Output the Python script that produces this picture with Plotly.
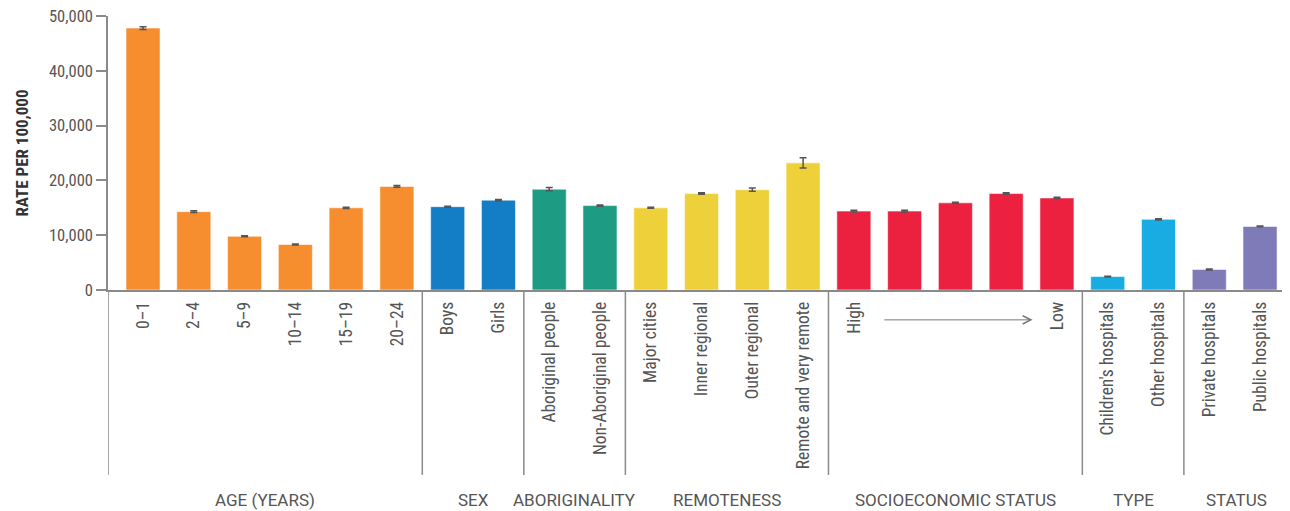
import plotly.graph_objects as go

# ---- data ----
groups = ["AGE (YEARS)", "SEX", "ABORIGINALITY", "REMOTENESS",
          "SOCIOECONOMIC STATUS", "TYPE", "STATUS"]
group_labels = [
    ["0–1", "2–4", "5–9", "10–14", "15–19", "20–24"],
    ["Boys", "Girls"],
    ["Aboriginal people", "Non-Aboriginal people"],
    ["Major cities", "Inner regional", "Outer regional", "Remote and very remote"],
    ["High", "", "", "", "Low"],
    ["Children's hospitals", "Other hospitals"],
    ["Private hospitals", "Public hospitals"],
]
group_values = [
    [47800, 14300, 9800, 8300, 15000, 18900],
    [15200, 16400],
    [18400, 15400],
    [15000, 17600, 18300, 23200],
    [14400, 14400, 15900, 17600, 16800],
    [2450, 12900],
    [3750, 11600],
]
group_errors = [
    [250, 150, 100, 100, 120, 150],
    [100, 100],
    [300, 100],
    [80, 130, 300, 950],
    [150, 150, 120, 130, 120],
    [80, 120],
    [100, 80],
]
group_colors = ["#F68D2E", "#137DC5", "#1E9C83", "#EED13A",
                "#EC213F", "#19ACE2", "#7F7AB8"]
y_ticks = [0, 10000, 20000, 30000, 40000, 50000]

FONT = "Liberation Sans Narrow, Roboto Condensed, DejaVu Sans Condensed, Arial Narrow, sans-serif"
GFONT = "Roboto, Liberation Sans, sans-serif"
GRAY = "#8a8a8a"
TXT = "#555555"

x_min, x_max = -0.69, 22.59

fig = go.Figure()
pos = 0
tickvals, ticktext = [], []
bounds = [x_min]
group_pos = []
for labels, vals, errs, col in zip(group_labels, group_values, group_errors, group_colors):
    xs = list(range(pos, pos + len(vals)))
    group_pos.append(xs)
    fig.add_trace(go.Bar(
        x=xs, y=vals, width=0.67,
        marker=dict(color=col, line=dict(color="rgba(255,255,255,0.55)", width=1)),
        error_y=dict(type="data", array=errs, color="#555555", thickness=1.5, width=3.5),
        showlegend=False,
    ))
    tickvals += xs
    ticktext += labels
    pos += len(vals)
    bounds.append(pos - 0.5)
bounds[-1] = x_max

# separators (left edge + between groups)
for b in bounds[:-1]:
    fig.add_shape(type="line", xref="x", yref="paper", x0=b, x1=b, y0=0, y1=-0.675,
                  line=dict(color=GRAY, width=1.5))

# group titles
for g, lo, hi in zip(groups, bounds[:-1], bounds[1:]):
    fig.add_annotation(x=(lo + hi) / 2, xref="x", y=-0.765, yref="paper", text=g,
                       showarrow=False, font=dict(family=GFONT, size=17, color=TXT),
                       yanchor="middle")

# SES arrow High -> Low
ses = group_pos[4]
fig.add_annotation(x=ses[-1] - 0.48, xref="x", y=-0.109, yref="paper",
                   ax=ses[0] + 0.57, axref="x", ay=0, ayref="pixel",
                   text="", showarrow=True, arrowhead=5, arrowsize=1.6,
                   arrowwidth=1, arrowcolor="#777777")

# page body has an 8px margin: figure sits at (8, 8)
fig.update_layout(
    width=1282, height=503,
    margin=dict(l=100, r=0, t=8, b=221),
    plot_bgcolor="white", paper_bgcolor="white",
    bargap=0.3,
    font=dict(family=FONT, color=TXT),
    xaxis=dict(range=[x_min, x_max], tickmode="array", tickvals=tickvals,
               ticktext=ticktext, tickangle=-90, ticks="", showgrid=False,
               zeroline=False, showline=True, linecolor=GRAY, linewidth=1.5,
               tickfont=dict(family=FONT, size=17.5, color=TXT),
               automargin=False, ticklabelstandoff=3),
    yaxis=dict(range=[0, 50000], tickvals=y_ticks, tickformat=",",
               ticks="outside", ticklen=10, tickcolor=GRAY, tickwidth=1.5,
               showgrid=False, zeroline=False, showline=True, linecolor=GRAY,
               linewidth=1.5, tickfont=dict(family=FONT, size=16.5, color=TXT),
               ticklabeloverflow="allow",
               title=dict(text="<b>RATE PER 100,000</b>",
                          font=dict(family=FONT, size=17, color="#333333"),
                          standoff=16),
               automargin=False),
)

fig.write_html("out.html")
